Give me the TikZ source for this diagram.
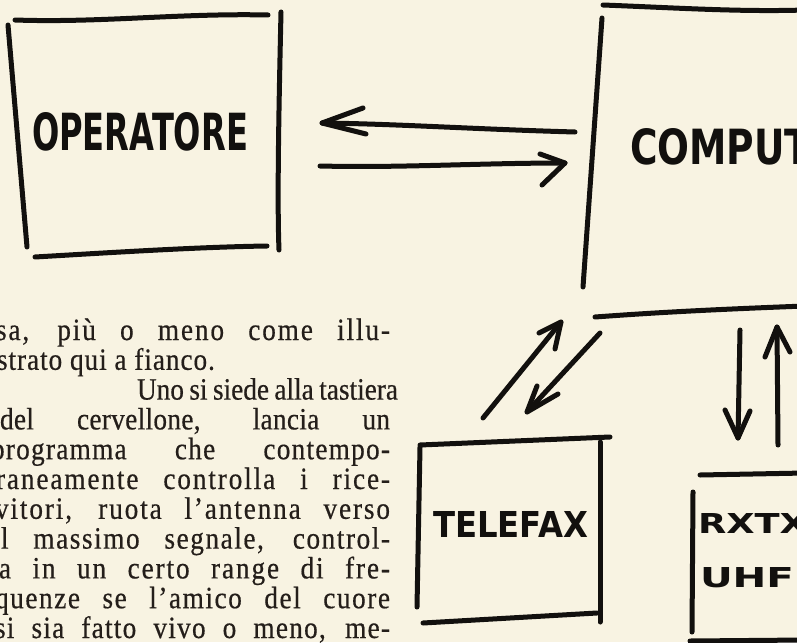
\documentclass[tikz,border=0pt]{standalone}
\usepackage{fontspec}
\usepackage{graphicx}
\setmainfont{Liberation Serif}
\newfontfamily\bodyfont{Liberation Serif}[FakeStretch=0.88,FakeBold=0.5]
\newfontfamily\hand{DejaVu Sans}
\definecolor{paper}{RGB}{248,243,226}
\definecolor{ink}{RGB}{18,16,14}
\definecolor{printink}{RGB}{36,30,26}
\tikzset{
  pen/.style={line width=5pt, line cap=round, line join=round, draw=ink},
  hw/.style={inner sep=0pt, outer sep=0pt, text=ink, font=\hand\bfseries},
  bodytext/.style={inner sep=0pt, outer sep=0pt, anchor=base west, text=printink, font=\bodyfont\fontsize{31}{30}\selectfont},
}
\newcommand{\jline}[3]{\addfontfeatures{LetterSpace=#2}\makebox[#1][s]{#3}}
\begin{document}
\begin{tikzpicture}[x=1pt,y=-1pt]
\useasboundingbox (0,0) rectangle (797,642);
\fill[paper] (0,0) rectangle (797,642);
\clip (0,0) rectangle (797,642);

% ---------- body text (left column) ----------
\node[bodytext] (t0) at (-4,340) {\jline{394pt}{6}{sa, più o meno come illu-}};
\node[bodytext] (t1) at (-3,369.8) {\addfontfeatures{LetterSpace=3}strato qui a fianco.};
\node[bodytext] (t2) at (137,399.6) {\jline{261pt}{0}{Uno si siede alla tastiera}};
\node[bodytext] (t3) at (0,429.4) {\jline{390pt}{1}{del cervellone, lancia un}};
\node[bodytext] (t4) at (-9,459.2) {\jline{399pt}{4}{programma che contempo-}};
\node[bodytext] (t5) at (-4,489) {\jline{394pt}{6}{raneamente controlla i rice-}};
\node[bodytext] (t6) at (-5,518.8) {\jline{395pt}{6}{vitori, ruota l’antenna verso}};
\node[bodytext] (t7) at (1,548.6) {\jline{389pt}{5}{l massimo segnale, control-}};
\node[bodytext] (t8) at (-1,578.4) {\jline{391pt}{6}{a in un certo range di fre-}};
\node[bodytext] (t9) at (-5,608.2) {\jline{395pt}{5}{quenze se l’amico del cuore}};
\node[bodytext] (t10) at (-5,638) {\jline{395pt}{4}{si sia fatto vivo o meno, me-}};

% ---------- OPERATORE box ----------
\draw[pen] (15,20) .. controls (100,23) and (180,13) .. (268,15);
\draw[pen] (8,25) -- (27,247);
\draw[pen] (281,12) .. controls (279,100) and (277,200) .. (279,250);
\draw[pen] (35,257) .. controls (120,252) and (200,247) .. (267,246);
\node[hw, anchor=base west] (op) at (32,150) {\resizebox{216pt}{38pt}{OPERATORE}};

% ---------- COMPUTER box ----------
\draw[pen] (603,5) .. controls (680,8) and (740,12) .. (805,10);
\draw[pen] (602,18) -- (583,287);
\draw[pen] (595,317) .. controls (650,313) and (700,310) .. (805,306);
\node[hw, anchor=base west] (comp) at (630,164) {\resizebox{235pt}{36pt}{COMPUTER}};

% ---------- TELEFAX box ----------
\draw[pen] (420,445) -- (610,437);
\draw[pen] (420,447) -- (417,607);
\draw[pen] (600,442) -- (600,622);
\draw[pen] (423,623) -- (597,613);
\node[hw, anchor=base west] (fax) at (433,537) {\resizebox{155pt}{26pt}{TELEFAX}};

% ---------- RX TX UHF box ----------
\draw[pen] (700,475) -- (805,473);
\draw[pen] (693,492) -- (692,632);
\draw[pen] (690,641) -- (805,640);
\node[hw, anchor=base west] (rx) at (698,533) {\resizebox{110pt}{20pt}{RXTX}};
\node[hw, anchor=base west] (uhf) at (700,587) {\resizebox{94pt}{20pt}{UHF}};

% ---------- arrows OPERATORE <-> COMPUTER ----------
\coordinate (a1s) at (575,132);
\coordinate (a1e) at (322,123);
\draw[pen] (a1s) .. controls (470,129) and (400,124) .. (a1e);
\draw[pen] (363,108) -- (a1e) -- (366,134);
\coordinate (a2s) at (320,166);
\coordinate (a2e) at (565,163);
\draw[pen] (a2s) .. controls (400,168) and (480,163) .. (a2e);
\draw[pen] (540,154) -- (a2e) -- (542,185);

% ---------- arrows COMPUTER <-> TELEFAX ----------
\coordinate (a3s) at (483,418);
\coordinate (a3e) at (561,322);
\draw[pen] (a3s) -- (a3e);
\draw[pen] (539,333) -- (a3e) -- (555,349);
\coordinate (a4s) at (600,333);
\coordinate (a4e) at (527,412);
\draw[pen] (a4s) -- (a4e);
\draw[pen] (537,386) -- (a4e) -- (558,394);

% ---------- arrows COMPUTER <-> RXTX ----------
\coordinate (a5s) at (740,330);
\coordinate (a5e) at (738,438);
\draw[pen] (a5s) -- (a5e);
\draw[pen] (725,410) -- (a5e) -- (750,411);
\coordinate (a6s) at (778,445);
\coordinate (a6e) at (777,327);
\draw[pen] (a6s) -- (a6e);
\draw[pen] (765,357) -- (a6e) -- (790,352);
\end{tikzpicture}
\end{document}
